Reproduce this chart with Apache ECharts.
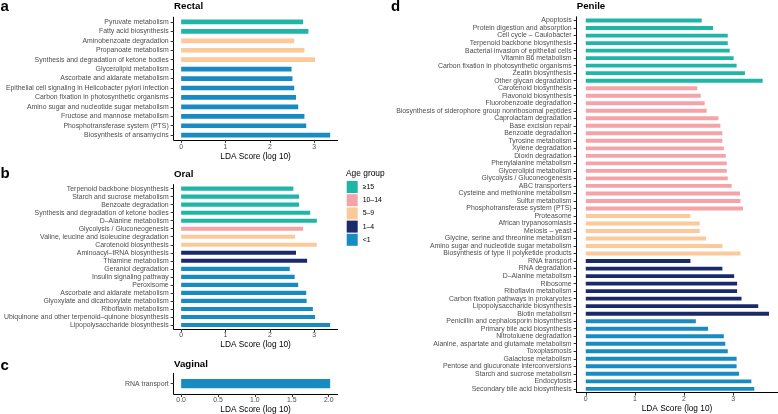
<!DOCTYPE html>
<html><head><meta charset="utf-8">
<script src="https://cdn.jsdelivr.net/npm/echarts@6/dist/echarts.min.js"></script>
<style>html,body{margin:0;padding:0;background:#fff}#c{width:778px;height:414px}</style>
</head><body><div id="c"></div>
<script>
const groupNames = ['≥15', '10–14', '5–9', '1–4', '<1'];

const rectalCats = ['Pyruvate metabolism','Fatty acid biosynthesis','Aminobenzoate degradation','Propanoate metabolism','Synthesis and degradation of ketone bodies','Glycerolipid metabolism','Ascorbate and aldarate metabolism','Epithelial cell signaling in Helicobacter pylori infection','Carbon fixation in photosynthetic organisms','Amino sugar and nucleotide sugar metabolism','Fructose and mannose metabolism','Phosphotransferase system (PTS)','Biosynthesis of ansamycins'];
const rectalVals = [2.75,2.87,2.55,2.78,3.02,2.49,2.51,2.55,2.59,2.64,2.78,2.82,3.36];
const rectalGroups = ['≥15','≥15','5–9','5–9','5–9','<1','<1','<1','<1','<1','<1','<1','<1'];

const oralCats = ['Terpenoid backbone biosynthesis','Starch and sucrose metabolism','Benzoate degradation','Synthesis and degradation of ketone bodies','D–Alanine metabolism','Glycolysis / Gluconeogenesis','Valine, leucine and isoleucine degradation','Carotenoid biosynthesis','Aminoacyl–tRNA biosynthesis','Thiamine metabolism','Geraniol degradation','Insulin signaling pathway','Peroxisome','Ascorbate and aldarate metabolism','Glyoxylate and dicarboxylate metabolism','Riboflavin metabolism','Ubiquinone and other terpenoid–quinone biosynthesis','Lipopolysaccharide biosynthesis'];
const oralVals = [2.53,2.66,2.66,2.91,3.06,2.75,2.57,3.06,2.59,2.84,2.45,2.56,2.64,2.82,2.83,2.97,3.02,3.36];
const oralGroups = ['≥15','≥15','≥15','≥15','≥15','10–14','5–9','5–9','1–4','1–4','<1','<1','<1','<1','<1','<1','<1','<1'];

const vaginalCats = ['RNA transport'];
const vaginalVals = [2.02];
const vaginalGroups = ['<1'];

const penileCats = ['Apoptosis','Protein digestion and absorption','Cell cycle – Caulobacter','Terpenoid backbone biosynthesis','Bacterial invasion of epithelial cells','Vitamin B6 metabolism','Carbon fixation in photosynthetic organisms','Zeatin biosynthesis','Other glycan degradation',
'Carotenoid biosynthesis','Flavonoid biosynthesis','Fluorobenzoate degradation','Biosynthesis of siderophore group nonribosomal peptides','Caprolactam degradation','Base excision repair','Benzoate degradation','Tyrosine metabolism','Xylene degradation','Dioxin degradation','Phenylalanine metabolism','Glycerolipid metabolism','Glycolysis / Gluconeogenesis','ABC transporters','Cysteine and methionine metabolism','Sulfur metabolism','Phosphotransferase system (PTS)',
'Proteasome','African trypanosomiasis','Meiosis – yeast','Glycine, serine and threonine metabolism','Amino sugar and nucleotide sugar metabolism','Biosynthesis of type II polyketide products',
'RNA transport','RNA degradation','D–Alanine metabolism','Ribosome','Riboflavin metabolism','Carbon fixation pathways in prokaryotes','Lipopolysaccharide biosynthesis','Biotin metabolism',
'Penicillin and cephalosporin biosynthesis','Primary bile acid biosynthesis','Nitrotoluene degradation','Alanine, aspartate and glutamate metabolism','Toxoplasmosis','Galactose metabolism','Pentose and glucuronate interconversions','Starch and sucrose metabolism','Endocytosis','Secondary bile acid biosynthesis'];
const penileVals = [2.36,2.59,2.89,2.89,2.93,3.01,3.07,3.24,3.60,
2.27,2.34,2.42,2.46,2.70,2.74,2.78,2.78,2.81,2.85,2.87,2.87,2.89,2.97,3.14,3.15,3.20,
2.13,2.32,2.32,2.45,2.78,3.15,
2.13,2.78,3.02,3.08,3.08,3.17,3.51,3.73,
2.24,2.49,2.81,2.84,2.89,3.07,3.07,3.12,3.37,3.43];
const penileGroups = [].concat(Array(9).fill('≥15'), Array(17).fill('10–14'), Array(6).fill('5–9'), Array(8).fill('1–4'), Array(10).fill('<1'));

const rectalTicks = [0,1,2,3];
const oralTicks = [0,1,2,3];
const vaginalTicks = [0,0.5,1,1.5,2];
const penileTicks = [0,1,2,3];

const FONT = 'Liberation Sans, Arial, Helvetica, sans-serif';
const colors = {'≥15':'#20B6A7','10–14':'#F4A4A8','5–9':'#FCCA9A','1–4':'#1B2A6B','<1':'#188BC3'};

const panels = [
  {cats: rectalCats, vals: rectalVals, groups: rectalGroups, ticks: rectalTicks, dec: 0,
   grid: {left: 173.7, top: 17.2, width: 163.9, height: 122.7}, bw: 4.7, lm: 4},
  {cats: oralCats, vals: oralVals, groups: oralGroups, ticks: oralTicks, dec: 0,
   grid: {left: 173.7, top: 184.6, width: 163.9, height: 144.4}, bw: 4.1, lm: 3},
  {cats: vaginalCats, vals: vaginalVals, groups: vaginalGroups, ticks: vaginalTicks, dec: 1,
   grid: {left: 173.7, top: 373.3, width: 163.9, height: 20.7}, bw: 9.3, lm: 3},
  {cats: penileCats, vals: penileVals, groups: penileGroups, ticks: penileTicks, dec: 0,
   grid: {left: 576.6, top: 16.8, width: 201.6, height: 375.8}, bw: 3.9, lm: 3}
];

const grids = [], xAxes = [], yAxes = [], series = [];
panels.forEach((p, i) => {
  const mx = Math.max.apply(null, p.vals);
  grids.push(Object.assign({containLabel: false, outerBoundsMode: 'none'}, p.grid));
  xAxes.push({
    type: 'value', gridIndex: i, min: -0.05 * mx, max: 1.05 * mx,
    axisLine: {show: true, onZero: false, lineStyle: {color: '#000', width: 1}},
    axisTick: {show: true, length: 3, customValues: p.ticks, lineStyle: {color: '#333'}},
    axisLabel: {customValues: p.ticks, fontSize: 6.9, color: '#4D4D4D', fontFamily: FONT, margin: p.lm,
      formatter: v => Number(v).toFixed(p.dec)},
    splitLine: {show: false}
  });
  yAxes.push({
    type: 'category', gridIndex: i, data: p.cats, inverse: true,
    axisLine: {show: true, onZero: false, lineStyle: {color: '#000', width: 1}},
    axisTick: {show: true, alignWithLabel: true, length: 3, lineStyle: {color: '#333'}},
    axisLabel: {fontSize: 6.9, color: '#4D4D4D', fontFamily: FONT, margin: 5, interval: 0},
    splitLine: {show: false}
  });
  groupNames.forEach(g => {
    series.push({
      type: 'bar', name: g, xAxisIndex: i, yAxisIndex: i, barWidth: p.bw, barGap: '-100%',
      itemStyle: {color: colors[g]}, silent: true,
      data: p.vals.map((v, k) => p.groups[k] === g ? v : '-')
    });
  });
});

function txt(text, x, y, size, weight, align) {
  return {type: 'text', x: x, y: y, silent: true,
    style: {text: text, font: (weight || 'normal') + ' ' + size + 'px ' + FONT, fill: '#000',
      textAlign: align || 'left', align: align || 'left', textVerticalAlign: 'middle', verticalAlign: 'middle'}};
}

const axisTitle = 'LDA Score (log 10)';
const graphics = [
  txt('a', 0.5, 6.5, 15, 'bold'), txt('b', 0.5, 174, 15, 'bold'), txt('c', 0.5, 365.5, 15, 'bold'), txt('d', 391, 7, 15, 'bold'),
  txt('Rectal', 174, 6.7, 9.7, 'bold'), txt('Oral', 174, 174, 9.7, 'bold'), txt('Vaginal', 174, 364, 9.7, 'bold'), txt('Penile', 576.7, 6.7, 9.7, 'bold'),
  txt(axisTitle, 255.6, 156.7, 8.3, 'normal', 'center'), txt(axisTitle, 255.6, 345, 8.3, 'normal', 'center'),
  txt(axisTitle, 255.6, 409.3, 8.3, 'normal', 'center'), txt(axisTitle, 677, 409.2, 8.3, 'normal', 'center'),
  txt('Age group', 346, 173.3, 8.4, 'normal')
];

const chart = echarts.init(document.getElementById('c'), null, {renderer: 'canvas'});
chart.setOption({
  animation: false,
  backgroundColor: '#fff',
  grid: grids, xAxis: xAxes, yAxis: yAxes, series: series,
  legend: {orient: 'vertical', left: 346.7, top: 181, padding: 0, itemWidth: 11, itemHeight: 12, itemGap: 1.2,
    icon: 'rect', selectedMode: false, data: groupNames,
    textStyle: {fontSize: 6.9, color: '#000', fontFamily: FONT}},
  graphic: graphics
});
</script></body></html>
